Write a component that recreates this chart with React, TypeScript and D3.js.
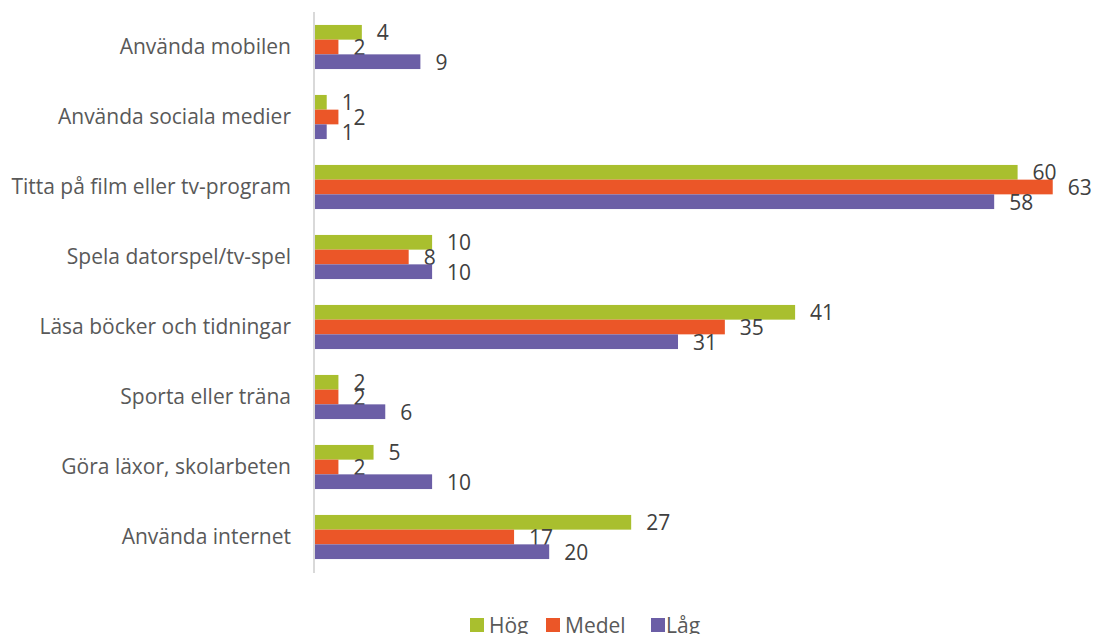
import React from "react";
import * as d3 from "d3";

const categories = [
  "Använda mobilen",
  "Använda sociala medier",
  "Titta på film eller tv-program",
  "Spela datorspel/tv-spel",
  "Läsa böcker och tidningar",
  "Sporta eller träna",
  "Göra läxor, skolarbeten",
  "Använda internet",
];
const seriesNames = ["Hög", "Medel", "Låg"];
const hog = [4, 1, 60, 10, 41, 2, 5, 27];
const medel = [2, 2, 63, 8, 35, 2, 2, 17];
const lag = [9, 1, 58, 10, 31, 6, 10, 20];
const seriesValues = [hog, medel, lag];
const colors = ["#A9BF2E", "#EB5628", "#6B5EA6"];

const W = 1095;
const H = 634;
const FONT = "'Open Sans', sans-serif";
const FS = 21;

export default function App() {
  const x0 = 315;
  const x = d3.scaleLinear().domain([0, 63]).range([x0, x0 + 63 * 11.71]);
  const y = d3
    .scaleBand<string>()
    .domain(categories)
    .range([12, 572])
    .paddingInner(0.37)
    .paddingOuter(0.185);
  const sub = d3
    .scaleBand<string>()
    .domain(seriesNames)
    .range([0, y.bandwidth()]);

  const legendItems = [
    { name: "Hög", sx: 470, tx: 489 },
    { name: "Medel", sx: 546, tx: 565 },
    { name: "Låg", sx: 651, tx: 666 },
  ];

  return (
    <svg
      width={W}
      height={H}
      style={{ position: "absolute", left: 0, top: 0, background: "#fff" }}
      fontFamily={FONT}
    >
      {categories.map((c, i) => (
        <g key={c}>
          {seriesNames.map((s, j) => {
            const v = seriesValues[j][i];
            const by = (y(c) as number) + (sub(s) as number);
            const bh = sub.bandwidth();
            return (
              <g key={s}>
                <rect
                  x={x(0)}
                  y={by}
                  width={x(v) - x(0)}
                  height={bh}
                  fill={colors[j]}
                />
                <text
                  x={x(v) + 15}
                  y={by + bh / 2 + 8}
                  fontSize={FS}
                  fill="#404040"
                >
                  {v}
                </text>
              </g>
            );
          })}
          <text
            x={291}
            y={(y(c) as number) + y.bandwidth() / 2 + 7}
            textAnchor="end"
            fontSize={FS}
            fill="#595959"
          >
            {c}
          </text>
        </g>
      ))}
      <line x1={314} x2={314} y1={12} y2={573} stroke="#D9D9D9" strokeWidth={2} />
      {legendItems.map((l, j) => (
        <g key={l.name}>
          <rect x={l.sx} y={618} width={14} height={14} fill={colors[j]} />
          <text x={l.tx} y={633} fontSize={FS} fill="#595959">
            {l.name}
          </text>
        </g>
      ))}
    </svg>
  );
}
